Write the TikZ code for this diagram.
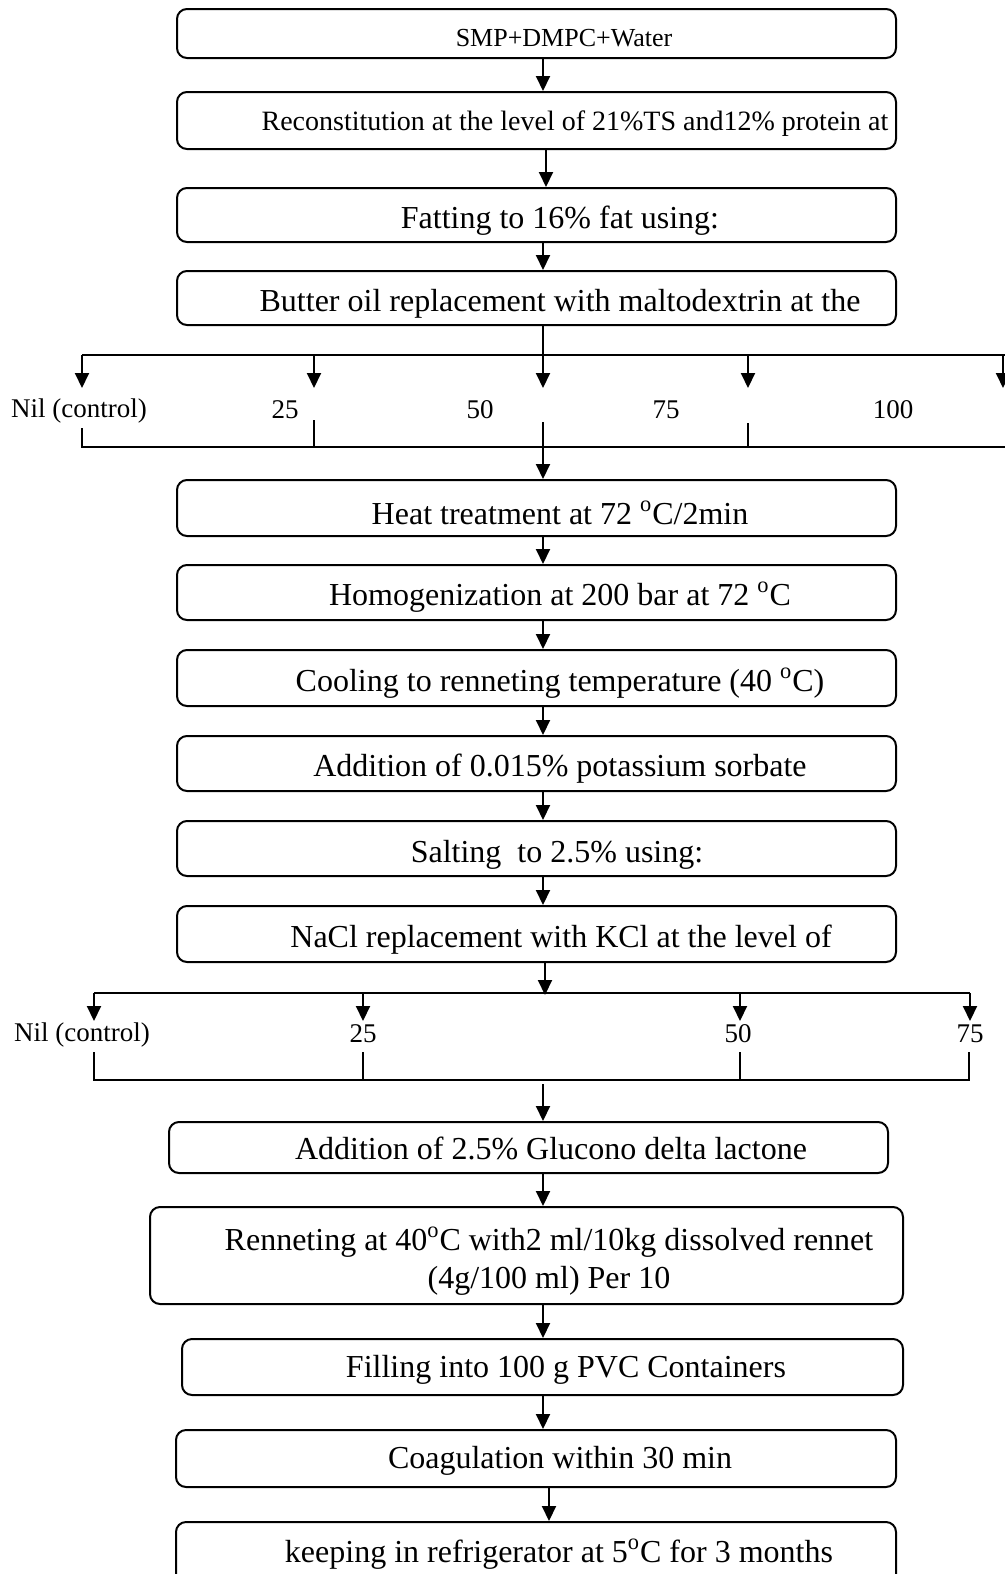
\documentclass[tikz,border=0pt]{standalone}
\usepackage{fontspec}
\setmainfont{Liberation Serif}
\usetikzlibrary{arrows.meta}
\tikzset{
  box/.style={draw, line width=1pt, rounded corners=5pt, inner sep=0pt, minimum width=359.5pt},
  txt/.style={inner sep=0pt, font=\fontsize{16}{19}\selectfont},
  lbl/.style={inner sep=0pt, font=\fontsize{13.5}{16}\selectfont},
  arr/.style={line width=1pt, -{Triangle[length=7.5pt,width=7pt]}},
  ln/.style={line width=1pt},
}
\begin{document}
\begin{tikzpicture}[x=0.5pt,y=-0.5pt]
\useasboundingbox (0,0) rectangle (1005,1574);
\begin{scope}
\clip (0,0) rectangle (1005,1574);
\fill[white] (0,0) rectangle (1005,1574);

% boxes
\node[box, minimum height=24.5pt] (b1) at (536.5,33.5) {};
\node[box, minimum height=28.5pt] (b2) at (536.5,120.5) {};
\node[box, minimum height=27pt] (b3) at (536.5,215) {};
\node[box, minimum height=27pt] (b4) at (536.5,298) {};
\node[box, minimum height=28pt] (b5) at (536.5,508) {};
\node[box, minimum height=27.5pt] (b6) at (536.5,592.5) {};
\node[box, minimum height=28pt] (b7) at (536.5,678) {};
\node[box, minimum height=27.5pt] (b8) at (536.5,763.5) {};
\node[box, minimum height=27.5pt] (b9) at (536.5,848.5) {};
\node[box, minimum height=28pt] (b10) at (536.5,934) {};
\node[box, minimum height=25.5pt] (b11) at (528.5,1147.5) {};
\node[box, minimum width=376.5pt, minimum height=48.5pt] (b12) at (526.5,1255.5) {};
\node[box, minimum width=360.5pt, minimum height=28pt] (b13) at (542.5,1367) {};
\node[box, minimum width=360pt, minimum height=28.5pt] (b14) at (536,1458.5) {};
\node[box, minimum width=360pt, minimum height=44pt] (b15) at (536,1566) {};

% texts
\node[inner sep=0pt, font=\fontsize{13}{15}\selectfont] (t1) at (564,38) {SMP+DMPC+Water};
\node[inner sep=0pt, font=\fontsize{14}{16}\selectfont] (t2) at (575,124) {Reconstitution at the level of 21\%TS and12\% protein at};
\node[txt] (t3) at (560,221) {Fatting to 16\% fat using:};
\node[txt] (t4) at (560,304) {Butter oil replacement with maltodextrin at the};
\node[txt] (t5) at (560,513) {Heat treatment at 72 \textsuperscript{o}C/2min};
\node[txt] (t6) at (560,597) {Homogenization at 200 bar at 72 \textsuperscript{o}C};
\node[txt] (t7) at (560,683) {Cooling to renneting temperature (40 \textsuperscript{o}C)};
\node[txt] (t8) at (560,769) {Addition of 0.015\% potassium sorbate};
\node[txt] (t9) at (557,855) {Salting\ \ to 2.5\% using:};
\node[txt] (t10) at (561,940) {NaCl replacement with KCl at the level of};
\node[txt] (t11) at (551,1148) {Addition of 2.5\% Glucono delta lactone};
\node[txt, align=center] (t12) at (549,1261) {Renneting at 40\textsuperscript{o}C with2 ml/10kg dissolved rennet\\(4g/100 ml) Per 10};
\node[txt] (t13) at (566,1370) {Filling into 100 g PVC Containers};
\node[txt] (t14) at (560,1461) {Coagulation within 30 min};
\node[txt] (t15) at (559,1554) {keeping in refrigerator at 5\textsuperscript{o}C for 3 months};

% arrow columns
\coordinate (ax) at (543,0);
\coordinate (ax2) at (546,0);
\coordinate (ax3) at (549,0);

\draw[arr] (b1.south -| ax) -- (b2.north -| ax);
\draw[arr] (b2.south -| ax2) -- (b3.north -| ax2);
\draw[arr] (b3.south -| ax) -- (b4.north -| ax);

% first branch
\coordinate (s1) at (82,355);
\coordinate (s2) at (314,355);
\coordinate (s4) at (748,355);
\coordinate (s5) at (1003,355);
\coordinate (sR) at (1010,355);
\coordinate (e1) at (82,388);
\coordinate (e2) at (314,388);
\coordinate (e3) at (543,388);
\coordinate (e4) at (748,388);
\coordinate (e5) at (1003,388);
\draw[ln] (s1) -- (sR);
\draw[arr] (b4.south -| ax) -- (e3);
\draw[arr] (s1) -- (e1);
\draw[arr] (s2) -- (e2);
\draw[arr] (s4) -- (e4);
\draw[arr] (s5) -- (e5);

\node[lbl] (n1) at (79,411) {Nil (control)};
\node[lbl] (n2) at (285,410) {25};
\node[lbl] (n3) at (480,410) {50};
\node[lbl] (n4) at (666,410) {75};
\node[lbl] (n5) at (893,410) {100};

\coordinate (u1) at (82,428);
\coordinate (u2) at (314,420);
\coordinate (u3) at (543,422);
\coordinate (u4) at (748,423);
\coordinate (v1) at (82,447);
\coordinate (v2) at (314,447);
\coordinate (v4) at (748,447);
\coordinate (vR) at (1010,447);
\draw[ln] (u1) -- (v1) -- (vR);
\draw[ln] (u2) -- (v2);
\draw[ln] (u4) -- (v4);
\draw[arr] (u3) -- (b5.north -| ax);

\draw[arr] (b5.south -| ax) -- (b6.north -| ax);
\draw[arr] (b6.south -| ax) -- (b7.north -| ax);
\draw[arr] (b7.south -| ax) -- (b8.north -| ax);
\draw[arr] (b8.south -| ax) -- (b9.north -| ax);
\draw[arr] (b9.south -| ax) -- (b10.north -| ax);

% second branch
\coordinate (p1) at (94,993);
\coordinate (p2) at (363,993);
\coordinate (p3) at (740,993);
\coordinate (p4) at (970,993);
\coordinate (q1) at (94,1021);
\coordinate (q2) at (363,1021);
\coordinate (q3) at (740,1021);
\coordinate (q4) at (970,1021);
\coordinate (bx) at (545,0);
\coordinate (m2) at (545,995);
\draw[ln] (p1) -- (p4);
\draw[arr] (b10.south -| bx) -- (m2);
\draw[arr] (p1) -- (q1);
\draw[arr] (p2) -- (q2);
\draw[arr] (p3) -- (q3);
\draw[arr] (p4) -- (q4);

\node[lbl] (k1) at (82,1035) {Nil (control)};
\node[lbl] (k2) at (363,1034) {25};
\node[lbl] (k3) at (738,1034) {50};
\node[lbl] (k4) at (970,1034) {75};

\coordinate (r1) at (94,1052);
\coordinate (r2) at (363,1052);
\coordinate (r3) at (740,1052);
\coordinate (r4) at (969,1052);
\coordinate (w1) at (94,1080);
\coordinate (w2) at (363,1080);
\coordinate (w3) at (740,1080);
\coordinate (w4) at (969,1080);
\draw[ln] (r1) -- (w1) -- (w4) -- (r4);
\draw[ln] (r2) -- (w2);
\draw[ln] (r3) -- (w3);
\coordinate (m3) at (543,1084);
\draw[arr] (m3) -- (b11.north -| ax);

\draw[arr] (b11.south -| ax) -- (b12.north -| ax);
\draw[arr] (b12.south -| ax) -- (b13.north -| ax);
\draw[arr] (b13.south -| ax) -- (b14.north -| ax);
\draw[arr] (b14.south -| ax3) -- (b15.north -| ax3);
\end{scope}
\end{tikzpicture}
\end{document}
